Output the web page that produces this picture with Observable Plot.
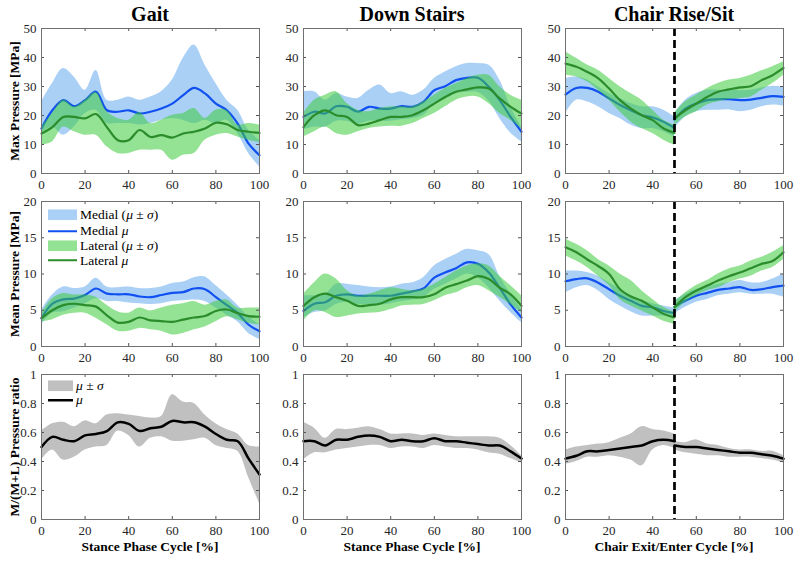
<!DOCTYPE html>
<html><head><meta charset="utf-8">
<script src="https://cdn.jsdelivr.net/npm/d3@7"></script>
<script src="https://cdn.jsdelivr.net/npm/@observablehq/plot@0.6"></script>
<style>
body{margin:0;background:#fff;}
#chart{position:relative;width:800px;height:561px;font-family:"Liberation Serif","Times New Roman",serif;color:#000;overflow:hidden;}
.ttl{position:absolute;font-weight:bold;font-size:20px;line-height:1;white-space:nowrap;transform:translate(-50%,-50%);}
.ylab{position:absolute;font-weight:bold;font-size:13.5px;line-height:1;white-space:nowrap;transform:translate(-50%,-50%) rotate(-90deg);}
.xlab{position:absolute;font-weight:bold;font-size:13.5px;line-height:1;white-space:nowrap;transform:translate(-50%,-50%);}
.panel{position:absolute;}
.leg{position:absolute;font-size:13.5px;line-height:1;white-space:nowrap;color:#000;}
.leg .row{position:absolute;left:0;display:flex;align-items:center;transform:translateY(-50%);}
</style></head><body><div id="chart"></div>
<script>
// ---------------- data ----------------
const xs = [0,5,10,15,20,25,30,35,40,45,50,55,60,65,70,75,80,85,90,95,100];
const chairX = [0,5,10,15,20,25,30,35,40,45,50,50,55,60,65,70,75,80,85,90,95,100];
const chairPhase = ["exit","exit","exit","exit","exit","exit","exit","exit","exit","exit","exit","enter","enter","enter","enter","enter","enter","enter","enter","enter","enter","enter"];
const transitionAt = 50;

const xTicks = [0,20,40,60,80,100];
const maxTicks = [0,10,20,30,40,50];
const meanTicks = [0,5,10,15,20];
const ratioTicks = [0,0.2,0.4,0.6,0.8,1];

const titles = ["Gait","Down Stairs","Chair Rise/Sit"];
const yLabels = ["Max Pressure [MPa]","Mean Pressure [MPa]","M/(M+L) Pressure ratio"];
const xLabels = ["Stance Phase Cycle [%]","Stance Phase Cycle [%]","Chair Exit/Enter Cycle [%]"];

// Gait – max pressure
const gaitMaxMedMean = [15.5,21.8,25.3,23.2,25.3,28.2,21.8,21.3,21.8,20.7,21.3,22.4,24.1,27.0,29.5,27.6,24.1,21.8,17.2,10.3,6.3];
const gaitMaxMedHi   = [24.7,31.0,36.2,33.3,28.7,35.5,25.3,25.3,26.4,25.3,26.4,28.2,32.2,39.7,44.3,37.4,31.0,25.3,21.8,14.9,11.5];
const gaitMaxMedLo   = [13.8,16.0,13.2,16.0,20.7,21.8,17.2,17.2,17.2,16.7,17.2,18.4,19.0,18.4,17.2,18.4,17.2,18.4,13.8,6.9,2.3];
const gaitMaxLatMean = [13.8,16.0,19.5,19.5,19.0,20.5,16.0,11.5,11.5,15.0,12.6,13.2,12.4,13.8,14.4,15.5,17.5,17.0,15.0,14.4,14.0];
const gaitMaxLatHi   = [16.0,20.7,25.3,23.0,25.3,28.0,21.3,19.0,18.4,21.0,17.2,18.4,20.1,20.7,22.4,19.0,21.8,21.8,16.7,17.2,16.7];
const gaitMaxLatLo   = [9.8,10.9,16.0,14.4,13.2,13.2,9.2,6.9,6.9,8.0,8.0,8.0,4.6,6.3,6.9,11.5,13.2,13.8,12.6,11.5,10.6];

// Down stairs – max pressure
const stairsMaxMedMean = [19.5,21.3,20.7,23.2,23.0,21.3,23.0,22.4,22.4,23.2,23.0,24.7,28.7,30.1,32.2,33.0,33.0,29.9,25.3,19.5,14.4];
const stairsMaxMedHi   = [28.2,28.2,25.3,27.6,26.4,25.9,28.7,30.5,27.6,28.2,27.0,28.7,32.8,35.0,36.8,37.9,37.9,37.4,32.2,23.0,16.0];
const stairsMaxMedLo   = [15.0,16.0,16.0,18.0,18.0,17.0,18.0,18.0,18.0,18.5,19.0,20.0,24.0,25.5,27.5,28.0,28.0,25.0,19.0,14.0,11.0];
const stairsMaxLatMean = [16.0,20.1,21.8,20.1,19.5,16.7,17.2,18.4,19.5,19.5,20.1,21.8,24.1,26.4,28.2,29.0,29.7,29.3,25.9,23.0,20.7];
const stairsMaxLatHi   = [20.7,25.3,27.0,28.2,24.1,21.8,21.3,22.4,23.0,23.0,23.0,24.7,27.0,29.3,31.0,32.8,33.9,33.9,29.9,27.0,25.3];
const stairsMaxLatLo   = [12.6,14.4,16.0,13.8,13.2,14.4,15.5,16.0,16.3,16.3,17.2,19.0,20.7,23.0,25.3,26.4,26.4,24.1,20.7,18.4,15.5];

// Chair – max pressure
const chairMaxMedMean = [27.2,29.5,29.5,28.2,25.9,23.6,21.8,20.1,19.3,17.8,15.7, 18.6,22.4,24.1,25.3,25.6,25.6,25.3,25.5,26.1,26.7,26.4];
const chairMaxMedHi   = [32.8,33.3,32.2,29.9,27.6,25.9,24.1,23.0,23.0,21.8,19.5, 20.7,25.3,27.6,28.7,28.7,28.7,28.5,28.7,29.5,30.1,29.7];
const chairMaxMedLo   = [20.7,25.3,24.7,23.0,20.7,19.0,16.7,15.5,15.5,14.4,12.6, 15.5,19.5,21.3,21.8,21.8,22.0,21.3,21.8,23.0,23.6,23.2];
const chairMaxLatMean = [37.9,36.8,35.0,32.8,29.3,25.3,22.4,20.1,18.4,15.5,14.0, 19.0,21.8,24.1,26.4,28.2,29.0,29.7,30.1,32.2,33.9,36.4];
const chairMaxLatHi   = [42.0,39.7,37.4,35.6,32.8,29.9,27.6,25.3,21.8,18.4,16.7, 20.7,24.7,27.0,29.3,31.0,32.2,32.8,33.9,35.4,36.8,38.5];
const chairMaxLatLo   = [33.9,33.3,31.6,28.7,25.3,21.3,17.8,15.5,13.8,11.5,9.8, 16.7,19.5,21.3,23.6,24.7,25.5,25.9,26.4,28.7,31.0,33.9];

// Gait – mean pressure
const gaitMeanMedMean = [3.9,5.9,6.5,6.6,7.1,8.0,7.3,7.2,7.2,6.9,6.8,7.1,7.4,7.5,8.0,7.9,6.8,5.7,4.6,3.0,2.1];
const gaitMeanMedHi   = [5.0,7.1,8.2,8.0,8.2,9.4,8.2,8.1,8.2,8.0,8.0,8.2,8.7,8.9,9.5,9.6,8.4,7.1,5.7,4.1,3.0];
const gaitMeanMedLo   = [3.0,4.6,4.8,5.3,5.9,6.6,6.2,6.2,6.0,5.9,5.8,5.9,6.2,6.3,6.4,6.2,5.3,4.3,3.4,1.8,1.0];
const gaitMeanLatMean = [3.9,5.0,5.7,5.9,5.7,5.5,4.3,3.3,3.4,4.0,3.6,3.5,3.4,3.7,4.0,4.2,4.9,5.1,4.6,4.2,4.1];
const gaitMeanLatHi   = [4.6,6.6,7.3,7.1,7.1,6.8,5.7,4.8,4.6,5.3,4.9,5.3,5.7,5.9,6.2,5.7,6.2,6.4,5.3,5.3,5.3];
const gaitMeanLatLo   = [3.4,3.7,4.3,4.6,4.6,3.9,3.0,2.1,2.1,2.5,2.3,2.1,1.6,1.8,2.3,2.7,3.4,4.1,3.7,3.2,3.0];

// Down stairs – mean pressure
const stairsMeanMedMean = [4.9,5.9,6.1,7.0,7.2,7.0,7.0,7.0,7.0,7.3,7.6,8.0,9.5,10.2,10.8,11.6,11.4,10.2,8.1,5.8,4.0];
const stairsMeanMedHi   = [7.0,7.0,7.2,8.6,8.6,8.4,8.2,8.1,8.2,8.6,8.8,9.5,11.1,12.0,12.7,13.4,13.2,12.7,9.7,7.2,5.1];
const stairsMeanMedLo   = [4.0,4.7,4.9,5.8,6.1,5.8,5.8,5.7,5.9,6.2,6.4,6.8,7.9,8.6,9.3,10.0,9.5,8.1,6.3,4.7,3.3];
const stairsMeanLatMean = [5.6,6.8,7.3,6.8,6.3,5.6,5.7,5.9,6.5,6.8,6.8,6.8,7.2,8.1,8.6,9.1,9.7,9.3,8.1,7.2,5.6];
const stairsMeanLatHi   = [7.2,8.8,10.0,9.3,7.7,7.0,7.2,7.7,8.1,7.9,7.7,7.9,8.6,9.5,10.4,11.1,11.4,11.1,9.7,8.4,7.0];
const stairsMeanLatLo   = [3.5,4.9,4.7,4.0,4.2,4.5,4.6,4.7,5.1,5.6,5.7,5.8,6.3,7.0,7.4,8.1,8.4,7.7,6.8,5.8,4.7];

// Chair – mean pressure
const chairMeanMedMean = [9.0,9.3,9.4,8.8,7.9,7.0,6.3,5.6,5.4,4.9,4.6, 5.5,6.3,7.0,7.4,7.8,8.0,8.2,7.8,7.9,8.2,8.4];
const chairMeanMedHi   = [10.4,10.4,10.2,9.7,8.8,7.9,7.0,6.3,5.9,5.6,5.3, 6.3,7.2,7.9,8.2,8.6,8.8,9.1,8.8,8.8,9.3,10.0];
const chairMeanMedLo   = [7.4,8.1,8.4,7.7,6.5,5.6,4.8,4.2,4.2,4.2,4.0, 4.5,5.4,6.1,6.5,7.0,7.2,7.4,7.2,7.2,7.2,6.8];
const chairMeanLatMean = [13.7,13.0,12.0,11.1,10.0,7.9,6.9,6.3,5.4,4.5,4.0, 5.4,6.8,7.7,8.4,9.1,9.7,10.2,10.8,11.4,11.8,13.0];
const chairMeanLatHi   = [14.8,14.1,13.2,12.0,11.1,10.0,9.1,7.7,6.5,5.4,4.7, 6.1,7.4,8.4,9.1,10.0,10.7,11.1,11.8,12.3,13.0,13.9];
const chairMeanLatLo   = [12.5,11.8,10.9,9.7,8.4,6.5,5.6,4.9,4.2,3.5,3.1, 4.7,6.1,7.0,7.7,8.1,8.8,9.3,9.7,10.4,10.9,12.0];

// Pressure ratio M/(M+L)
const gaitRatioMean = [0.50,0.57,0.55,0.54,0.58,0.59,0.61,0.67,0.66,0.61,0.63,0.64,0.68,0.67,0.67,0.64,0.59,0.55,0.54,0.42,0.31];
const gaitRatioHi   = [0.61,0.66,0.67,0.64,0.68,0.66,0.72,0.73,0.72,0.71,0.70,0.71,0.86,0.81,0.80,0.72,0.66,0.62,0.59,0.51,0.50];
const gaitRatioLo   = [0.41,0.48,0.41,0.43,0.48,0.50,0.51,0.61,0.58,0.50,0.56,0.57,0.54,0.54,0.55,0.56,0.51,0.49,0.47,0.29,0.11];
const stairsRatioMean = [0.54,0.54,0.51,0.55,0.55,0.57,0.58,0.57,0.54,0.55,0.54,0.54,0.56,0.54,0.54,0.53,0.52,0.51,0.51,0.47,0.42];
const stairsRatioHi   = [0.67,0.63,0.56,0.62,0.62,0.63,0.64,0.62,0.59,0.59,0.59,0.58,0.59,0.58,0.57,0.57,0.57,0.57,0.56,0.51,0.44];
const stairsRatioLo   = [0.41,0.46,0.46,0.48,0.49,0.50,0.51,0.51,0.49,0.50,0.50,0.49,0.51,0.50,0.49,0.49,0.48,0.46,0.45,0.42,0.39];
const chairRatioMean = [0.42,0.44,0.47,0.47,0.48,0.49,0.50,0.51,0.54,0.55,0.54, 0.51,0.50,0.50,0.49,0.48,0.47,0.46,0.46,0.45,0.44,0.42];
const chairRatioHi   = [0.48,0.50,0.51,0.52,0.53,0.56,0.59,0.64,0.62,0.61,0.59, 0.54,0.53,0.55,0.52,0.51,0.49,0.48,0.48,0.47,0.47,0.44];
const chairRatioLo   = [0.38,0.40,0.43,0.43,0.44,0.43,0.41,0.37,0.48,0.51,0.49, 0.48,0.46,0.45,0.44,0.44,0.43,0.43,0.43,0.42,0.41,0.39];

// ---------------- styling ----------------
const BLUE_BAND = "#aad0f6", BLUE = "#1050f0";
const GREEN_BAND = "#3ccb3c", GREEN = "#2a8c2a";
const GRAY_BAND = "#c0c0c0";
const CURVE = "catmull-rom";
const PW = 218, PH = 145, ML = 40, MR = 4, MT = 6, MB = 22;
const colLeft = [41, 303, 565];
const rowTop = [28, 201, 374];

function table(xArr, group, cols) {
  return xArr.map((x, i) => {
    const r = {x, seg: group ? group[i] : "all"};
    for (const k in cols) r[k] = cols[k][i];
    return r;
  });
}

function pressureMarks(t) {
  return [
    Plot.areaY(t, {x: "x", y1: "medLo", y2: "medHi", z: "seg", fill: BLUE_BAND, curve: CURVE}),
    Plot.lineY(t, {x: "x", y: "medMean", z: "seg", stroke: BLUE, strokeWidth: 2.2, curve: CURVE}),
    Plot.areaY(t, {x: "x", y1: "latLo", y2: "latHi", z: "seg", fill: GREEN_BAND, fillOpacity: 0.55, curve: CURVE}),
    Plot.lineY(t, {x: "x", y: "latMean", z: "seg", stroke: GREEN, strokeWidth: 2.2, curve: CURVE})
  ];
}
function ratioMarks(t) {
  return [
    Plot.areaY(t, {x: "x", y1: "lo", y2: "hi", z: "seg", fill: GRAY_BAND, curve: CURVE}),
    Plot.lineY(t, {x: "x", y: "mean", z: "seg", stroke: "#000", strokeWidth: 2.5, curve: CURVE})
  ];
}

const chart = document.getElementById("chart");

function panel(col, row, yDomain, yTicks, marks, dashed) {
  const all = [...marks];
  if (dashed) all.push(Plot.ruleX([transitionAt], {stroke: "#000", strokeWidth: 2.7, strokeDasharray: "8,4"}));
  all.push(
    Plot.ruleX(xTicks, {insetTop: PH - 3, stroke: "#555"}),
    Plot.ruleX(xTicks, {insetBottom: PH - 3, stroke: "#555"}),
    Plot.ruleY(yTicks, {insetRight: PW - 3, stroke: "#555"}),
    Plot.ruleY(yTicks, {insetLeft: PW - 3, stroke: "#555"}),
    Plot.frame({stroke: "#707070"}),
    Plot.axisX({ticks: xTicks, tickSize: 0, tickPadding: 6, fontSize: 13, fill: "#262626", label: null}),
    Plot.axisY({ticks: yTicks, tickSize: 0, tickPadding: 5, fontSize: 13, fill: "#262626", label: null, tickFormat: d3.format("~g")})
  );
  const svg = Plot.plot({
    width: ML + PW + MR, height: MT + PH + MB,
    marginLeft: ML, marginRight: MR, marginTop: MT, marginBottom: MB,
    style: {background: "transparent", fontFamily: "'Liberation Serif','Times New Roman',serif", overflow: "visible"},
    x: {domain: [0, 100]},
    y: {domain: yDomain},
    marks: all
  });
  svg.classList.add("panel");
  svg.style.left = (colLeft[col] - ML) + "px";
  svg.style.top = (rowTop[row] - MT) + "px";
  chart.appendChild(svg);
}

// row 1: max pressure
panel(0, 0, [0, 50], maxTicks, pressureMarks(table(xs, null, {medMean: gaitMaxMedMean, medHi: gaitMaxMedHi, medLo: gaitMaxMedLo, latMean: gaitMaxLatMean, latHi: gaitMaxLatHi, latLo: gaitMaxLatLo})));
panel(1, 0, [0, 50], maxTicks, pressureMarks(table(xs, null, {medMean: stairsMaxMedMean, medHi: stairsMaxMedHi, medLo: stairsMaxMedLo, latMean: stairsMaxLatMean, latHi: stairsMaxLatHi, latLo: stairsMaxLatLo})));
panel(2, 0, [0, 50], maxTicks, pressureMarks(table(chairX, chairPhase, {medMean: chairMaxMedMean, medHi: chairMaxMedHi, medLo: chairMaxMedLo, latMean: chairMaxLatMean, latHi: chairMaxLatHi, latLo: chairMaxLatLo})), true);
// row 2: mean pressure
panel(0, 1, [0, 20], meanTicks, pressureMarks(table(xs, null, {medMean: gaitMeanMedMean, medHi: gaitMeanMedHi, medLo: gaitMeanMedLo, latMean: gaitMeanLatMean, latHi: gaitMeanLatHi, latLo: gaitMeanLatLo})));
panel(1, 1, [0, 20], meanTicks, pressureMarks(table(xs, null, {medMean: stairsMeanMedMean, medHi: stairsMeanMedHi, medLo: stairsMeanMedLo, latMean: stairsMeanLatMean, latHi: stairsMeanLatHi, latLo: stairsMeanLatLo})));
panel(2, 1, [0, 20], meanTicks, pressureMarks(table(chairX, chairPhase, {medMean: chairMeanMedMean, medHi: chairMeanMedHi, medLo: chairMeanMedLo, latMean: chairMeanLatMean, latHi: chairMeanLatHi, latLo: chairMeanLatLo})), true);
// row 3: ratio
panel(0, 2, [0, 1], ratioTicks, ratioMarks(table(xs, null, {mean: gaitRatioMean, hi: gaitRatioHi, lo: gaitRatioLo})));
panel(1, 2, [0, 1], ratioTicks, ratioMarks(table(xs, null, {mean: stairsRatioMean, hi: stairsRatioHi, lo: stairsRatioLo})));
panel(2, 2, [0, 1], ratioTicks, ratioMarks(table(chairX, chairPhase, {mean: chairRatioMean, hi: chairRatioHi, lo: chairRatioLo})), true);

// ---------------- text ----------------
function addDiv(cls, html, x, y) {
  const d = document.createElement("div");
  d.className = cls; d.innerHTML = html;
  d.style.left = x + "px"; d.style.top = y + "px";
  chart.appendChild(d);
  return d;
}
titles.forEach((t, i) => addDiv("ttl", t, colLeft[i] + PW / 2, 14));
yLabels.forEach((t, i) => addDiv("ylab", t, 15, rowTop[i] + PH / 2));
xLabels.forEach((t, i) => addDiv("xlab", t, colLeft[i] + PW / 2, 547));

// legends
const mu = "<i>μ</i>", sigma = "<i>σ</i>";
function legend(x, y, items) {
  const box = addDiv("leg", "", x, y);
  items.forEach((it, i) => {
    const row = document.createElement("div");
    row.className = "row";
    row.style.top = (it.dy) + "px";
    const sw = it.type === "patch"
      ? `<svg width="${it.w}" height="11" style="display:block"><rect width="${it.w}" height="11" fill="${it.color}" ${it.opacity ? `fill-opacity="${it.opacity}"` : ""}/></svg>`
      : `<svg width="${it.w}" height="4" style="display:block"><line x1="0" x2="${it.w}" y1="2" y2="2" stroke="${it.color}" stroke-width="${it.sw}"/></svg>`;
    row.innerHTML = sw + `<span style="margin-left:3px">${it.label}</span>`;
    box.appendChild(row);
  });
}
legend(48, 215, [
  {type: "patch", w: 29, color: BLUE_BAND, label: `Medial (${mu} ± ${sigma})`, dy: 0},
  {type: "line", w: 29, color: BLUE, sw: 2.2, label: `Medial ${mu}`, dy: 16},
  {type: "patch", w: 29, color: GREEN_BAND, opacity: 0.55, label: `Lateral (${mu} ± ${sigma})`, dy: 31},
  {type: "line", w: 29, color: GREEN, sw: 2.2, label: `Lateral ${mu}`, dy: 45.5}
]);
legend(48, 386, [
  {type: "patch", w: 25, color: GRAY_BAND, label: `${mu} ± ${sigma}`, dy: 0},
  {type: "line", w: 25, color: "#000", sw: 2.5, label: mu, dy: 14}
]);
</script></body></html>
